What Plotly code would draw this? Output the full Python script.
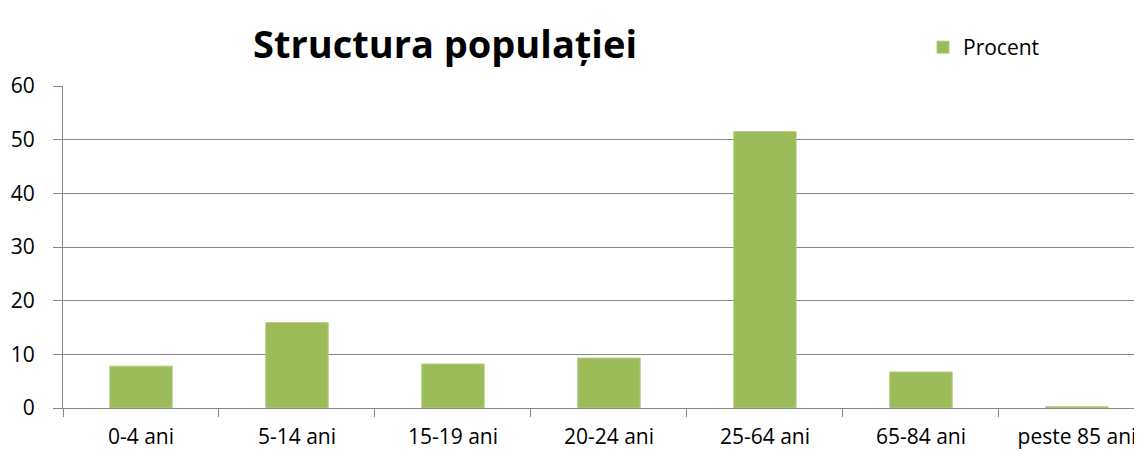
import plotly.graph_objects as go

categories = ["0-4 ani", "5-14 ani", "15-19 ani", "20-24 ani", "25-64 ani", "65-84 ani", "peste 85 ani"]
procent = [7.8, 15.9, 8.2, 9.3, 51.5, 6.7, 0.25]
y_ticks = [0, 10, 20, 30, 40, 50, 60]

GRAY = "#868686"
GREEN = "#9BBB59"
FONT = "Open Sans"
W, H = 1134, 444  # page body has an 8px margin

fig = go.Figure()
fig.add_trace(go.Bar(
    x=categories, y=procent, name="Procent",
    marker=dict(color=GREEN, line=dict(color="#B3CC82", width=1)),
    width=0.4,
))

fig.update_layout(
    width=W, height=H,
    margin=dict(l=55, r=0, t=78, b=44, autoexpand=False),
    paper_bgcolor="white", plot_bgcolor="white",
    font=dict(family=FONT, size=21, color="black"),
    title=dict(text="<b>Structura populației</b>", x=437/W, xanchor="center",
               y=1-37/H, yanchor="middle", xref="container", yref="container",
               font=dict(family=FONT, size=38, color="black")),
    showlegend=True,
    legend=dict(x=915/W, y=1-19/H, xref="container", yref="container",
                xanchor="left", yanchor="top", font=dict(size=21),
                bgcolor="rgba(0,0,0,0)", itemwidth=30),
    bargap=0.6,
)
fig.update_xaxes(
    type="category", range=[-0.5, 6.417],
    showline=True, linecolor=GRAY, linewidth=1,
    ticks="outside", tickson="boundaries", ticklen=8, tickcolor=GRAY,
    showgrid=False, ticklabelstandoff=10,
    tickfont=dict(size=21),
)
fig.update_yaxes(
    range=[0, 60], tickvals=y_ticks,
    showline=True, linecolor=GRAY, linewidth=1,
    showgrid=True, gridcolor=GRAY, gridwidth=1,
    ticks="outside", ticklen=9, tickcolor=GRAY,
    zeroline=False, ticklabelstandoff=14,
    tickfont=dict(size=21),
)

fig.write_html("out.html")
